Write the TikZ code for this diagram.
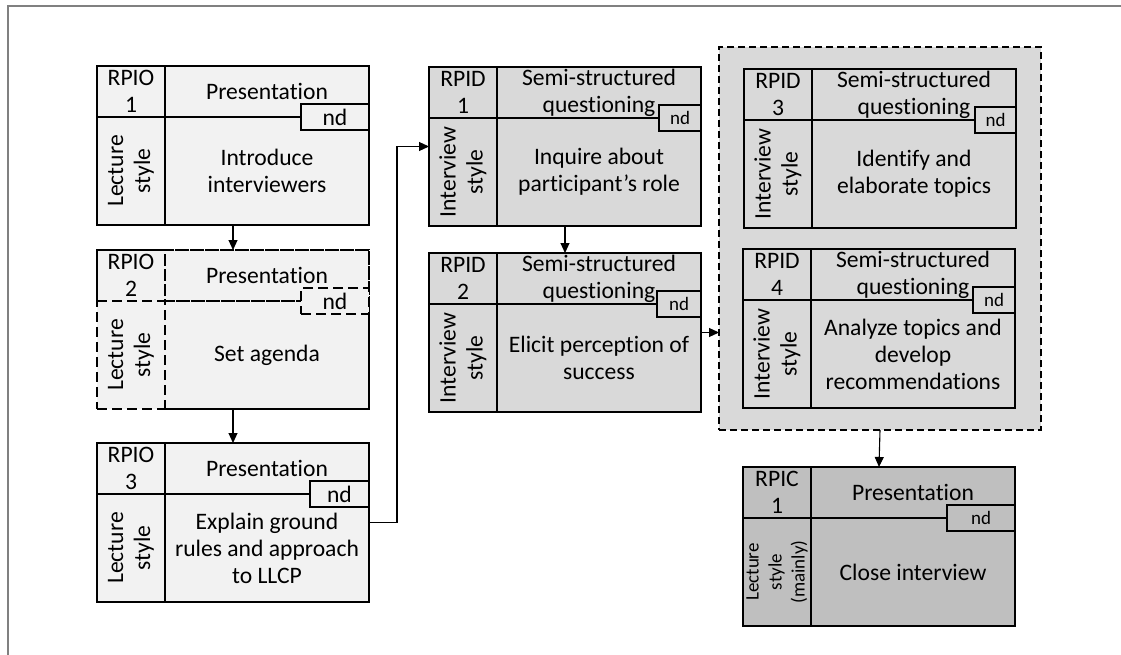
\documentclass[tikz,border=0pt]{standalone}
\usepackage{fontspec}
\setmainfont{Carlito}[Ligatures={NoCommon,NoRequired,NoContextual}, Contextuals=NoAlternate]
\usepackage{tikz}
\usetikzlibrary{arrows.meta}
\definecolor{openfill}{HTML}{F2F2F2}
\definecolor{discfill}{HTML}{D9D9D9}
\definecolor{closefill}{HTML}{BFBFBF}
\definecolor{framegray}{HTML}{808080}

\begin{document}
\begin{tikzpicture}[x=1pt, y=-1pt,
  every node/.style={outer sep=0pt, inner sep=0pt, align=center, anchor=north west,
    font=\fontsize{23.6pt}{27pt}\selectfont},
  box/.style={draw, line width=1.5pt, minimum width=272pt, minimum height=159pt},
  idcell/.style={draw, line width=1.2pt, minimum width=68pt, minimum height=51pt},
  headcell/.style={draw, line width=1.2pt, minimum width=204pt, minimum height=51pt},
  stycell/.style={rotate=90, anchor=north east, minimum width=108pt, minimum height=68pt},
  actcell/.style={draw, line width=1.2pt, minimum width=204pt, minimum height=108pt},
  ndcell/.style={draw, line width=1.2pt, anchor=east, minimum height=26pt},
  smalltext/.style={font=\fontsize{19pt}{23pt}\selectfont},
  dashbox/.style={dash pattern=on 10pt off 5pt},
  arrow/.style={-{Triangle[length=10pt, width=9pt]}, line width=1.1pt}]
\useasboundingbox (0,0) rectangle (1121,655);
\draw[framegray, line width=1.5pt] (8,655) -- (8,6) -- (1121,6);

% opening
\node[box, fill=openfill] (o1) at (97,66) {};
\node[idcell] (o1id) at (o1.north west) {RPIO\\1};
\node[headcell] (o1head) at (o1id.north east) {Presentation};
\node[stycell] (o1sty) at (o1id.south west) {Lecture\\style};
\node[actcell] (o1act) at (o1id.south east) {Introduce\\interviewers};
\node[ndcell, fill=openfill, minimum width=68pt] (o1nd) at (o1head.south east) {nd};

\node[box, dashbox, fill=openfill] (o2) at (97,250) {};
\node[idcell, dashbox] (o2id) at (o2.north west) {RPIO\\2};
\node[headcell, dashbox] (o2head) at (o2id.north east) {Presentation};
\node[stycell] (o2sty) at (o2id.south west) {Lecture\\style};
\node[actcell, dashbox] (o2act) at (o2id.south east) {Set agenda};
\node[ndcell, dashbox, fill=openfill, minimum width=68pt] (o2nd) at (o2head.south east) {nd};

\node[box, fill=openfill] (o3) at (97,443) {};
\node[idcell] (o3id) at (o3.north west) {RPIO\\3};
\node[headcell] (o3head) at (o3id.north east) {Presentation};
\node[stycell] (o3sty) at (o3id.south west) {Lecture\\style};
\node[actcell] (o3act) at (o3id.south east) {Explain ground\\rules and approach\\to LLCP};
\node[ndcell, fill=openfill, minimum width=59pt] (o3nd) at (o3head.south east) {nd};

% discussion
\node[box, fill=discfill] (d1) at (429,67) {};
\node[idcell] (d1id) at (d1.north west) {RPID\\1};
\node[headcell] (d1head) at (d1id.north east) {Semi-structured\\questioning};
\node[stycell] (d1sty) at (d1id.south west) {Interview\\style};
\node[actcell] (d1act) at (d1id.south east) {Inquire about\\participant’s role};
\node[ndcell, smalltext, fill=discfill, minimum width=42pt] (d1nd) at (d1head.south east) {nd};

\node[box, fill=discfill] (d2) at (429,253) {};
\node[idcell] (d2id) at (d2.north west) {RPID\\2};
\node[headcell] (d2head) at (d2id.north east) {Semi-structured\\questioning};
\node[stycell] (d2sty) at (d2id.south west) {Interview\\style};
\node[actcell] (d2act) at (d2id.south east) {Elicit perception of\\success};
\node[ndcell, smalltext, fill=discfill, minimum width=44pt] (d2nd) at (d2head.south east) {nd};

\node[draw, dash pattern=on 7pt off 4pt, line width=1.2pt, fill=discfill,
  minimum width=322pt, minimum height=383pt] (grp) at (719,47) {};

\node[box, fill=discfill] (d3) at (744,69) {};
\node[idcell] (d3id) at (d3.north west) {RPID\\3};
\node[headcell] (d3head) at (d3id.north east) {Semi-structured\\questioning};
\node[stycell] (d3sty) at (d3id.south west) {Interview\\style};
\node[actcell] (d3act) at (d3id.south east) {Identify and\\elaborate topics};
\node[ndcell, smalltext, fill=discfill, minimum width=41pt] (d3nd) at (d3head.south east) {nd};

\node[box, fill=discfill] (d4) at (743,249) {};
\node[idcell] (d4id) at (d4.north west) {RPID\\4};
\node[headcell] (d4head) at (d4id.north east) {Semi-structured\\questioning};
\node[stycell] (d4sty) at (d4id.south west) {Interview\\style};
\node[actcell] (d4act) at (d4id.south east) {Analyze topics and\\develop\\recommendations};
\node[ndcell, smalltext, fill=discfill, minimum width=42pt] (d4nd) at (d4head.south east) {nd};

% closing
\node[box, fill=closefill] (c1) at (743,467) {};
\node[idcell] (c1id) at (c1.north west) {RPIC\\1};
\node[headcell] (c1head) at (c1id.north east) {Presentation};
\node[stycell, smalltext] (c1sty) at (c1id.south west) {Lecture\\style\\(mainly)};
\node[actcell] (c1act) at (c1id.south east) {Close interview};
\node[ndcell, smalltext, fill=closefill, minimum width=68pt] (c1nd) at (c1head.south east) {nd};

\draw[arrow] (o1.south) -- (o2.north);
\draw[arrow] (o2.south) -- (o3.north);
\draw[arrow] (o3.east) -- ++(28,0) |- (d1.west);
\draw[arrow] (d1.south) -- (d2.north);
\draw[arrow] (d2.east) -- (d2.east -| grp.west);
\draw[arrow] (grp.south) -- (c1.north);
\end{tikzpicture}
\end{document}
